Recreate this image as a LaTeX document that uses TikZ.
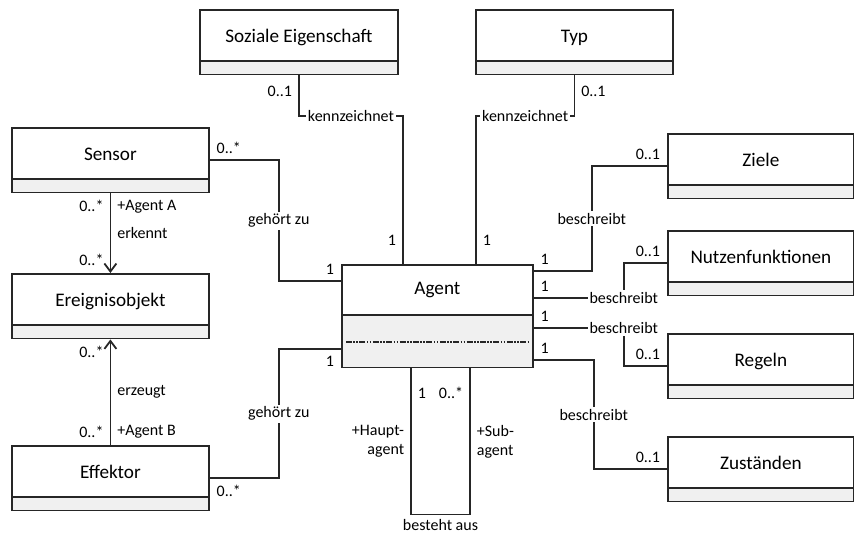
\documentclass[tikz,border=0pt]{standalone}
\usepackage{fontspec}
\setmainfont{Carlito}
\usetikzlibrary{calc,shapes.multipart,arrows.meta}
\definecolor{classgrey}{HTML}{F0F0F0}
\definecolor{umlline}{HTML}{262626}
\newcommand{\namestrut}{\rule[-8.8pt]{0pt}{24.5pt}}
\newcommand{\attrstrut}{\rule{0pt}{6pt}}

\begin{document}
\begin{tikzpicture}[x=0.5pt,y=-0.5pt,
    classbox/.style={anchor=north west,draw=umlline,line width=0.9pt,rectangle split,rectangle split parts=2,rectangle split part fill={white,classgrey},inner sep=0pt,minimum width=#1,font={\fontsize{9.6}{11}\selectfont}},
    classbox/.default=98.5pt,
    mult/.style={font={\fontsize{8}{9.5}\selectfont},inner sep=3pt},
    role/.style={mult,fill=white,inner sep=1pt},
    assoc/.style={draw=umlline,line width=0.9pt},
    nav/.style={assoc,-{Straight Barb[length=4pt,width=6pt]}}]
    \useasboundingbox (0,0) rectangle (854,533);

    \node[classbox=95.5pt] (agent) at (341,264) {
        \rule[-9.5pt]{0pt}{24pt}Agent
        \nodepart{two}
        \rule{0pt}{25.5pt}
    };
    \draw[umlline,line width=1pt,dash pattern=on 3pt off 0.7pt on 0.8pt off 0.7pt on 0.8pt off 0.7pt] ($(agent.south west)+(5,-26)$) -- ($(agent.south east)+(-4,-26)$);

    \node[classbox=99pt] (soziale) at (199,9) {\namestrut Soziale Eigenschaft \nodepart{two} \attrstrut};
    \node[classbox] (typ) at (475,9) {\namestrut Typ \nodepart{two} \attrstrut};

    \node[classbox] (sensor) at (11,127) {\namestrut Sensor \nodepart{two} \attrstrut};
    \node[classbox] (ereignis) at (11,273) {\namestrut Ereignisobjekt \nodepart{two} \attrstrut};
    \node[classbox] (effektor) at (11,445) {\namestrut Effektor \nodepart{two} \attrstrut};

    \node[classbox=93pt] (ziele) at (667,133) {\namestrut Ziele \nodepart{two} \attrstrut};
    \node[classbox=93pt] (nutzen) at (667,230) {\namestrut Nutzenfunktionen \nodepart{two} \attrstrut};
    \node[classbox=93pt] (regeln) at (667,333) {\namestrut Regeln \nodepart{two} \attrstrut};
    \node[classbox=93pt] (zustaende) at (667,436) {\namestrut Zuständen \nodepart{two} \attrstrut};

    % kennzeichnet
    \draw[assoc] ($(agent.north west)+(62,0)$) |- node[pos=0.08,mult,left]{1} node[pos=0.75,role]{kennzeichnet} ($(soziale.south)+(0,41)$) -- node[pos=0.6,mult,left]{0..1} (soziale.south);
    \draw[assoc] ($(agent.north west)+(135,0)$) |- node[pos=0.08,mult,right]{1} node[pos=0.75,role]{kennzeichnet} ($(typ.south)+(0,41)$) -- node[pos=0.6,mult,right]{0..1} (typ.south);

    % gehört zu
    \draw[assoc] (sensor.east) node[mult,above right]{0..*} -- ++(69,0) |- node[pos=0.25,role]{gehört zu} ($(agent.north west)+(0,17)$) node[mult,above left]{1};
    \draw[assoc] (effektor.east) node[mult,below right]{0..*} -- ++(69,0) |- node[pos=0.25,role]{gehört zu} ($(agent.north west)+(0,85)$) node[mult,below left]{1};

    % erkennt / erzeugt
    \draw[nav] (sensor.south) node[mult,below left]{0..*} node[mult,below right]{+Agent A} -- node[mult,right]{erkennt} (ereignis.north) node[mult,above left]{0..*};
    \draw[nav] (effektor.north) node[mult,above left]{0..*} node[mult,above right]{+Agent B} -- node[mult,right]{erzeugt} (ereignis.south) node[mult,below left]{0..*};

    % beschreibt
    \draw[assoc] ($(agent.north east)+(0,7)$) node[mult,above right]{1} -- ++(58,0) |- node[pos=0.25,role]{beschreibt} (ziele.west) node[mult,above left]{0..1};
    \draw[assoc] ($(agent.north east)+(0,34)$) node[mult,above right]{1} -- ++(90,0) node[role]{beschreibt} |- (nutzen.west) node[mult,above left]{0..1};
    \draw[assoc] ($(agent.north east)+(0,64)$) node[mult,above right]{1} -- ++(90,0) node[role]{beschreibt} |- (regeln.west) node[mult,above left]{0..1};
    \draw[assoc] ($(agent.north east)+(0,96)$) node[mult,above right]{1} -- ++(60,0) |- node[pos=0.25,role]{beschreibt} (zustaende.west) node[mult,above left]{0..1};

    % besteht aus
    \draw[assoc] ($(agent.south west)+(70,0)$) -- node[pos=0.17,mult,right]{1} node[mult,left,align=right]{+Haupt-\\agent} ++(0,146) -| node[pos=0.25,mult,below,inner sep=2pt]{besteht aus} node[pos=0.75,mult,right,align=left]{+Sub-\\agent} node[pos=0.915,mult,left]{0..*} ($(agent.south west)+(129,0)$);
\end{tikzpicture}
\end{document}
